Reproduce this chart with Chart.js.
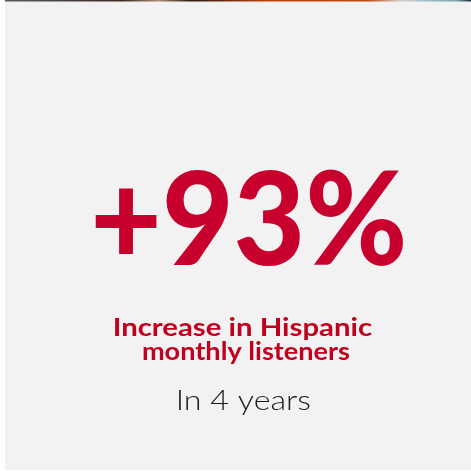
<!DOCTYPE html>
<html>
<head>
<meta charset="utf-8">
<script src="https://cdn.jsdelivr.net/npm/chart.js@4"></script>
<style>
  html, body { margin: 0; padding: 0; background: #fff; }
  #wrap { width: 471px; height: 471px; }
</style>
</head>
<body>
<div id="wrap"><canvas id="c"></canvas></div>
<script>
// stat values
const growthPct = [93];
const periodYears = [4];
const headline = ['Increase in Hispanic', 'monthly listeners'];

const RED = '#c8002d';
const RED_TXT = '#c0001e';

// draw text so its ink spans left..right, sitting on baseline, with given cap height
function fitText(ctx, text, font, left, right, baseline, capH, color) {
    ctx.save();
    ctx.font = font;
    ctx.textAlign = 'left';
    ctx.textBaseline = 'alphabetic';
    const m = ctx.measureText(text);
    const cap = ctx.measureText('H').actualBoundingBoxAscent;
    const inkW = m.actualBoundingBoxLeft + m.actualBoundingBoxRight;
    const sx = (right - left) / inkW;
    const sy = capH / cap;
    ctx.translate(left + m.actualBoundingBoxLeft * sx, baseline);
    ctx.scale(sx, sy);
    ctx.fillStyle = color;
    ctx.fillText(text, 0, 0);
    ctx.restore();
}

const cardPlugin = {
    id: 'card',
    beforeDraw(chart) {
        const ctx = chart.ctx;
        ctx.save();
        ctx.fillStyle = '#ffffff';
        ctx.fillRect(0, 0, chart.width, chart.height);
        ctx.fillStyle = '#f2f2f2';
        ctx.fillRect(5, 1, chart.width - 5, chart.height - 2);
        // thin photo strip along the top
        const g = ctx.createLinearGradient(5, 0, chart.width, 0);
        g.addColorStop(0, '#5a5a5a');
        g.addColorStop(0.25, '#3a2a22');
        g.addColorStop(0.33, '#b08a70');
        g.addColorStop(0.4, '#2a1a14');
        g.addColorStop(0.55, '#b8400c');
        g.addColorStop(0.78, '#c04a10');
        g.addColorStop(0.85, '#d8d0c8');
        g.addColorStop(0.9, '#9cc0cc');
        g.addColorStop(0.97, '#7aa0ac');
        g.addColorStop(1, '#1e2a30');
        ctx.fillStyle = g;
        ctx.fillRect(5, 0, chart.width - 5, 1.5);
        ctx.restore();
    },
    afterDraw(chart) {
        const ctx = chart.ctx;
        fitText(ctx, '+' + growthPct[0] + '%', '900 130px Lato', 95, 403, 265, 95, RED);
        fitText(ctx, headline[0], 'bold 25px Lato', 115, 372, 336, 18, RED_TXT);
        fitText(ctx, headline[1], 'bold 25px Lato', 143, 350, 360, 18, RED_TXT);
        fitText(ctx, 'In ' + periodYears[0] + ' years', '300 28px Lato', 178, 310, 410, 20, '#1a1a1a');
    }
};

new Chart(document.getElementById('c'), {
    type: 'bar',
    data: { labels: [], datasets: [] },
    options: {
        responsive: true,
        maintainAspectRatio: false,
        animation: false,
        plugins: { legend: { display: false }, tooltip: { enabled: false } },
        scales: { x: { display: false }, y: { display: false } }
    },
    plugins: [cardPlugin]
});
</script>
</body>
</html>
